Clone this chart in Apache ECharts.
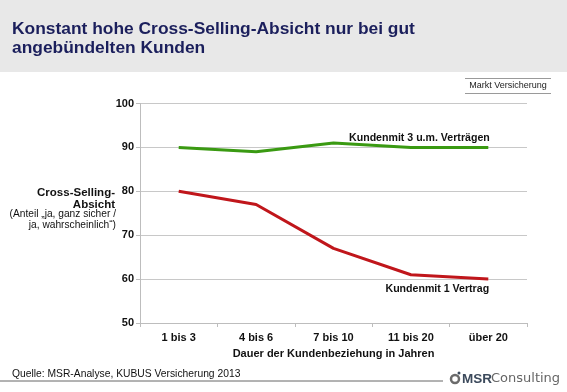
<!DOCTYPE html>
<html>
<head>
<meta charset="utf-8">
<script src="https://cdn.jsdelivr.net/npm/echarts@6/dist/echarts.min.js"></script>
<style>
html,body{margin:0;padding:0;background:#fff;}
#chart{width:567px;height:392px;}
</style>
</head>
<body>
<div id="chart"></div>
<script>
var categories = ['1 bis 3', '4 bis 6', '7 bis 10', '11 bis 20', 'über 20'];
var multiContract = [90, 89, 91, 90, 90];
var singleContract = [80, 77, 67, 61, 60];
var yTicks = [50, 60, 70, 80, 90, 100];

var F = 'Liberation Sans, Arial, sans-serif';
var chart = echarts.init(document.getElementById('chart'), null, {renderer: 'canvas'});

var greenData = multiContract.map(function (v, i) {
  if (i === 3) {
    return {value: v, label: {show: true, position: 'top', offset: [8.5, 1], formatter: 'Kundenmit 3 u.m. Verträgen',
      fontFamily: F, fontSize: 10.6, fontWeight: 'bold', color: '#111'}};
  }
  return v;
});
var redData = singleContract.map(function (v, i) {
  if (i === 4) {
    return {value: v, label: {show: true, position: 'bottom', offset: [-51, -1], formatter: 'Kundenmit 1 Vertrag',
      fontFamily: F, fontSize: 10.6, fontWeight: 'bold', color: '#111'}};
  }
  return v;
});

chart.setOption({
  animation: false,
  backgroundColor: '#ffffff',
  grid: {left: 140, right: 40, top: 103.5, bottom: 69, containLabel: false},
  xAxis: {
    type: 'category',
    data: categories,
    boundaryGap: true,
    name: 'Dauer der Kundenbeziehung in Jahren',
    nameLocation: 'middle',
    nameGap: 25,
    nameTextStyle: {fontFamily: F, fontSize: 11, fontWeight: 'bold', color: '#111'},
    axisLine: {lineStyle: {color: '#bdbdbd', width: 1}},
    axisTick: {show: true, length: 4, lineStyle: {color: '#bdbdbd'}},
    axisLabel: {fontFamily: F, fontSize: 11, fontWeight: 'bold', color: '#111', margin: 9},
    splitLine: {show: false}
  },
  yAxis: {
    type: 'value',
    min: yTicks[0],
    max: yTicks[yTicks.length - 1],
    interval: 10,
    axisLine: {show: true, lineStyle: {color: '#bdbdbd', width: 1}},
    axisTick: {show: true, length: 4, lineStyle: {color: '#bdbdbd'}},
    axisLabel: {fontFamily: F, fontSize: 11, fontWeight: 'bold', color: '#111', margin: 6},
    splitLine: {show: true, lineStyle: {color: '#c8c8c8', width: 1}}
  },
  series: [
    {
      type: 'line',
      data: greenData,
      symbol: 'circle',
      symbolSize: 0.01,
      showSymbol: true,
      smooth: false,
      lineStyle: {color: '#3a9a12', width: 3},
      itemStyle: {color: '#3a9a12'},
      z: 3
    },
    {
      type: 'line',
      data: redData,
      symbol: 'circle',
      symbolSize: 0.01,
      showSymbol: true,
      smooth: false,
      lineStyle: {color: '#c0161b', width: 3},
      itemStyle: {color: '#c0161b'},
      z: 3
    }
  ],
  graphic: [
    {type: 'rect', left: 0, top: 0, shape: {width: 567, height: 72}, style: {fill: '#e8e8e8'}, z: -1},
    {type: 'text', left: 12, top: 20, style: {text: 'Konstant hohe Cross-Selling-Absicht nur bei gut\nangebündelten Kunden',
      fontFamily: F, fontSize: 17.4, fontWeight: 'bold', fill: '#1b1f5c', lineHeight: 19}},
    {type: 'line', shape: {x1: 465, y1: 78.5, x2: 551, y2: 78.5}, style: {stroke: '#9a9a9a', lineWidth: 1}},
    {type: 'line', shape: {x1: 465, y1: 93.5, x2: 551, y2: 93.5}, style: {stroke: '#9a9a9a', lineWidth: 1}},
    {type: 'text', x: 508, y: 86, style: {text: 'Markt Versicherung', fontFamily: F, fontSize: 9, fill: '#222',
      align: 'center', verticalAlign: 'middle'}},
    {type: 'text', x: 115, y: 199, style: {text: 'Cross-Selling-\nAbsicht', fontFamily: F, fontSize: 11.5, fontWeight: 'bold',
      fill: '#111', align: 'right', verticalAlign: 'middle', lineHeight: 12}},
    {type: 'text', x: 116, y: 220, style: {text: '(Anteil „ja, ganz sicher /\nja, wahrscheinlich“)', fontFamily: F, fontSize: 10.2,
      fill: '#111', align: 'right', verticalAlign: 'middle', lineHeight: 11}},
    {type: 'text', x: 12, y: 374, style: {text: 'Quelle: MSR-Analyse, KUBUS Versicherung 2013', fontFamily: F, fontSize: 10.3,
      fill: '#111', verticalAlign: 'middle'}},
    {type: 'line', shape: {x1: 0, y1: 381, x2: 443, y2: 381}, style: {stroke: '#666', lineWidth: 1}},
    {type: 'circle', shape: {cx: 455, cy: 379, r: 4}, style: {fill: 'none', stroke: '#6b6b6b', lineWidth: 2.5}},
    {type: 'circle', shape: {cx: 459, cy: 373, r: 1.5}, style: {fill: '#3c4a5c'}},
    {type: 'text', x: 462, y: 379, style: {text: 'MSR', fontFamily: F, fontSize: 13.5, fontWeight: 'bold', fill: '#3c4a5c',
      verticalAlign: 'middle'}},
    {type: 'text', x: 491, y: 379, style: {text: 'Consulting', fontFamily: 'DejaVu Sans, sans-serif', fontSize: 13, fill: '#666',
      verticalAlign: 'middle'}}
  ]
});
</script>
</body>
</html>
